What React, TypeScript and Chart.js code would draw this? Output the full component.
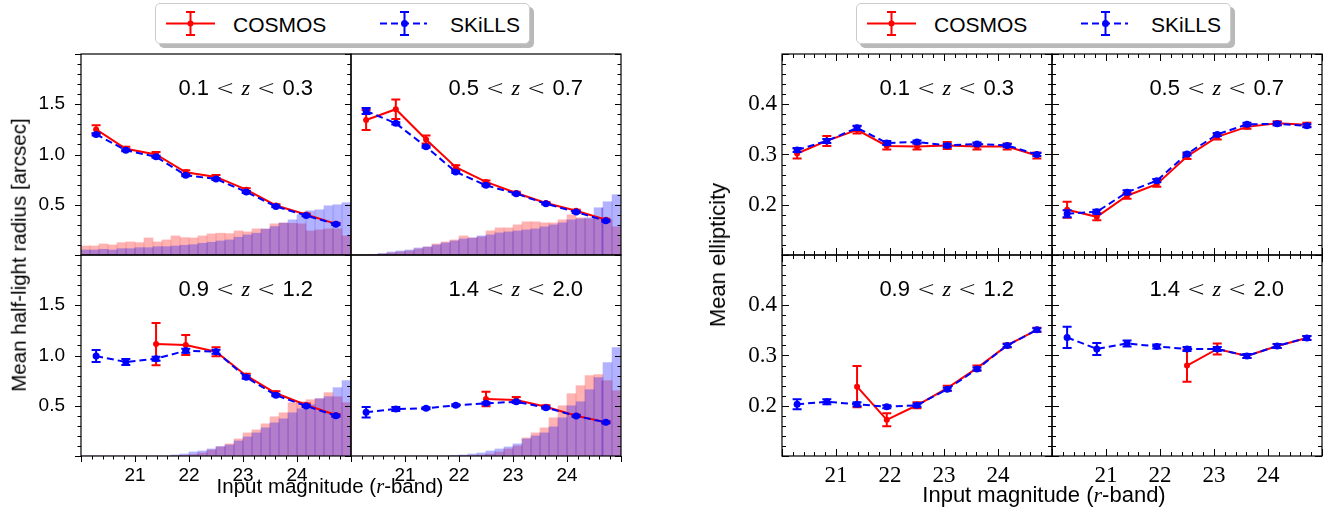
import React, { useEffect, useRef } from 'react';
import { Chart, registerables } from 'chart.js';

Chart.register(...registerables);

// ---------------- DATA ----------------
// magnitude bin centres for the mean-value curves
const magBins = [20.28, 20.83, 21.39, 21.94, 22.5, 23.06, 23.61, 24.17, 24.72];
// histogram bin centres (30 bins, 20-25 mag)
const histCenters = [20.083, 20.25, 20.417, 20.583, 20.75, 20.917, 21.083, 21.25, 21.417, 21.583,
  21.75, 21.917, 22.083, 22.25, 22.417, 22.583, 22.75, 22.917, 23.083, 23.25,
  23.417, 23.583, 23.75, 23.917, 24.083, 24.25, 24.417, 24.583, 24.75, 24.917];

const zLabels = ['0.1', '0.3', '0.5', '0.7', '0.9', '1.2', '1.4', '2.0'];
const xTickLabels = ['21', '22', '23', '24'];

// Mean half-light radius [arcsec]
const radCosmosZ1 = [1.25, 1.057, 1.0, 0.823, 0.777, 0.65, 0.493, 0.403, 0.31];
const radCosmosErrZ1 = [0.04, 0.02, 0.025, 0.02, 0.02, 0.015, 0.012, 0.01, 0.01];
const radSkillsZ1 = [1.2, 1.043, 0.977, 0.793, 0.757, 0.627, 0.483, 0.393, 0.307];
const radSkillsErrZ1 = [0.012, 0.01, 0.01, 0.01, 0.01, 0.01, 0.008, 0.008, 0.008];

const radCosmosZ2 = [1.343, 1.45, 1.15, 0.873, 0.727, 0.617, 0.517, 0.44, 0.35];
const radCosmosErrZ2 = [0.1, 0.097, 0.04, 0.02, 0.015, 0.012, 0.01, 0.01, 0.01];
const radSkillsZ2 = [1.433, 1.31, 1.077, 0.827, 0.693, 0.61, 0.51, 0.427, 0.34];
const radSkillsErrZ2 = [0.03, 0.012, 0.01, 0.01, 0.01, 0.008, 0.008, 0.008, 0.008];

const radCosmosZ3 = [null, null, 1.114, 1.104, 1.038, 0.799, 0.624, 0.507, 0.408];
const radCosmosErrZ3 = [0, 0, 0.21, 0.1, 0.045, 0.02, 0.02, 0.015, 0.01];
const radSkillsZ3 = [0.995, 0.935, 0.968, 1.048, 1.038, 0.783, 0.604, 0.498, 0.401];
const radSkillsErrZ3 = [0.06, 0.03, 0.02, 0.02, 0.02, 0.015, 0.01, 0.01, 0.01];

const radCosmosZ4 = [null, null, null, null, 0.567, 0.557, 0.49, 0.401, 0.335];
const radCosmosErrZ4 = [0, 0, 0, 0, 0.073, 0.03, 0.015, 0.012, 0.01];
const radSkillsZ4 = [0.435, 0.468, 0.475, 0.504, 0.524, 0.54, 0.481, 0.398, 0.335];
const radSkillsErrZ4 = [0.053, 0.02, 0.01, 0.01, 0.01, 0.01, 0.01, 0.008, 0.008];

// Histograms (arbitrary units drawn on the radius axis)
const histCosmosZ1 = [0.09, 0.09, 0.11, 0.1, 0.123, 0.13, 0.123, 0.17, 0.13, 0.15, 0.19, 0.173, 0.17, 0.19, 0.21, 0.217, 0.213, 0.24, 0.23, 0.26, 0.26, 0.31, 0.32, 0.315, 0.31, 0.24, 0.25, 0.26, 0.26, 0.19];
const histSkillsZ1 = [0.05, 0.05, 0.057, 0.05, 0.063, 0.063, 0.073, 0.073, 0.083, 0.083, 0.09, 0.097, 0.103, 0.117, 0.127, 0.14, 0.15, 0.177, 0.2, 0.217, 0.257, 0.283, 0.317, 0.35, 0.4, 0.44, 0.45, 0.49, 0.5, 0.52];
const histCosmosZ2 = [0, 0, 0, 0.01, 0.02, 0.03, 0.04, 0.06, 0.08, 0.11, 0.13, 0.15, 0.19, 0.17, 0.18, 0.24, 0.27, 0.27, 0.3, 0.33, 0.33, 0.32, 0.32, 0.35, 0.4, 0.37, 0.36, 0.37, 0.35, 0.28];
const histSkillsZ2 = [0, 0, 0.005, 0.015, 0.03, 0.04, 0.05, 0.07, 0.08, 0.1, 0.12, 0.14, 0.16, 0.17, 0.19, 0.2, 0.22, 0.23, 0.24, 0.25, 0.26, 0.28, 0.3, 0.32, 0.35, 0.36, 0.37, 0.47, 0.53, 0.6];
const histCosmosZ3 = [0, 0, 0, 0, 0, 0, 0, 0, 0, 0, 0, 0.005, 0.015, 0.03, 0.06, 0.09, 0.12, 0.17, 0.23, 0.26, 0.32, 0.39, 0.43, 0.53, 0.54, 0.56, 0.57, 0.63, 0.59, 0.53];
const histSkillsZ3 = [0, 0, 0, 0, 0, 0, 0, 0, 0, 0, 0.01, 0.02, 0.04, 0.05, 0.07, 0.095, 0.11, 0.15, 0.19, 0.23, 0.28, 0.33, 0.37, 0.43, 0.47, 0.51, 0.57, 0.59, 0.68, 0.75];
const histCosmosZ4 = [0, 0, 0, 0, 0, 0, 0, 0, 0, 0, 0, 0, 0.003, 0.005, 0.01, 0.02, 0.04, 0.07, 0.1, 0.18, 0.23, 0.28, 0.38, 0.5, 0.62, 0.7, 0.8, 0.81, 0.75, 0.65];
const histSkillsZ4 = [0, 0, 0, 0, 0, 0, 0, 0, 0, 0, 0, 0.005, 0.01, 0.02, 0.03, 0.05, 0.07, 0.09, 0.12, 0.17, 0.2, 0.23, 0.29, 0.38, 0.5, 0.54, 0.66, 0.78, 0.93, 1.08];
// thin vertical histogram edge line [magnitude, height]
const edgeLineZ2 = [24.65, 0.47];
const edgeLineZ4 = [24.65, 0.75];

// Mean ellipticity
const ellCosmosZ1 = [0.302, 0.327, 0.349, 0.317, 0.316, 0.318, 0.316, 0.316, 0.298];
const ellCosmosErrZ1 = [0.01, 0.01, 0.007, 0.007, 0.006, 0.007, 0.006, 0.006, 0.006];
const ellSkillsZ1 = [0.309, 0.327, 0.353, 0.323, 0.325, 0.318, 0.321, 0.318, 0.3];
const ellSkillsErrZ1 = [0.004, 0.004, 0.004, 0.004, 0.003, 0.003, 0.003, 0.003, 0.003];

const ellCosmosZ2 = [0.19, 0.176, 0.218, 0.241, 0.296, 0.335, 0.355, 0.362, 0.359];
const ellCosmosErrZ2 = [0.016, 0.007, 0.006, 0.005, 0.005, 0.005, 0.004, 0.004, 0.004];
const ellSkillsZ2 = [0.182, 0.186, 0.225, 0.248, 0.301, 0.34, 0.36, 0.361, 0.357];
const ellSkillsErrZ2 = [0.007, 0.004, 0.004, 0.003, 0.003, 0.003, 0.003, 0.003, 0.003];

const ellCosmosZ3 = [null, null, 0.238, 0.172, 0.201, 0.235, 0.275, 0.32, 0.351];
const ellCosmosErrZ3 = [0, 0, 0.041, 0.013, 0.006, 0.005, 0.005, 0.004, 0.004];
const ellSkillsZ3 = [0.203, 0.208, 0.203, 0.198, 0.201, 0.233, 0.273, 0.32, 0.351];
const ellSkillsErrZ3 = [0.01, 0.005, 0.004, 0.003, 0.003, 0.003, 0.003, 0.003, 0.003];

const ellCosmosZ4 = [null, null, null, null, 0.28, 0.313, 0.299, 0.319, 0.335];
const ellCosmosErrZ4 = [0, 0, 0, 0, 0.032, 0.011, 0.004, 0.004, 0.004];
const ellSkillsZ4 = [0.336, 0.313, 0.324, 0.318, 0.313, 0.313, 0.299, 0.319, 0.335];
const ellSkillsErrZ4 = [0.021, 0.012, 0.006, 0.004, 0.004, 0.004, 0.004, 0.004, 0.004];

// ---------------- STYLE / LAYOUT ----------------
const RED = '#ff0000';
const BLUE = '#0000ff';
const SANS = '"Liberation Sans", Arial, sans-serif';
const SERIF = '"Liberation Serif", "DejaVu Serif", serif';

const GEO: any = {
  L: { left: [81, 351], top: [54, 255], w: 270, h: 201, yMin: 0, yMax: 2, yMaj: 0.5, yMinor: 0.1 },
  R: { left: [782, 1052], top: [54, 255], w: 270, h: 201, yMin: 0.1, yMax: 0.5, yMaj: 0.1, yMinor: 0.02 },
};

type PanelDef = {
  group: 'L' | 'R'; row: number; col: number; zi: number;
  cosmos: (number | null)[]; cosmosErr: number[]; skills: number[]; skillsErr: number[];
  histC?: number[]; histS?: number[]; edge?: number[];
};

const panels: PanelDef[] = [
  { group: 'L', row: 0, col: 0, zi: 0, cosmos: radCosmosZ1, cosmosErr: radCosmosErrZ1, skills: radSkillsZ1, skillsErr: radSkillsErrZ1, histC: histCosmosZ1, histS: histSkillsZ1 },
  { group: 'L', row: 0, col: 1, zi: 1, cosmos: radCosmosZ2, cosmosErr: radCosmosErrZ2, skills: radSkillsZ2, skillsErr: radSkillsErrZ2, histC: histCosmosZ2, histS: histSkillsZ2, edge: edgeLineZ2 },
  { group: 'L', row: 1, col: 0, zi: 2, cosmos: radCosmosZ3, cosmosErr: radCosmosErrZ3, skills: radSkillsZ3, skillsErr: radSkillsErrZ3, histC: histCosmosZ3, histS: histSkillsZ3 },
  { group: 'L', row: 1, col: 1, zi: 3, cosmos: radCosmosZ4, cosmosErr: radCosmosErrZ4, skills: radSkillsZ4, skillsErr: radSkillsErrZ4, histC: histCosmosZ4, histS: histSkillsZ4, edge: edgeLineZ4 },
  { group: 'R', row: 0, col: 0, zi: 0, cosmos: ellCosmosZ1, cosmosErr: ellCosmosErrZ1, skills: ellSkillsZ1, skillsErr: ellSkillsErrZ1 },
  { group: 'R', row: 0, col: 1, zi: 1, cosmos: ellCosmosZ2, cosmosErr: ellCosmosErrZ2, skills: ellSkillsZ2, skillsErr: ellSkillsErrZ2 },
  { group: 'R', row: 1, col: 0, zi: 2, cosmos: ellCosmosZ3, cosmosErr: ellCosmosErrZ3, skills: ellSkillsZ3, skillsErr: ellSkillsErrZ3 },
  { group: 'R', row: 1, col: 1, zi: 3, cosmos: ellCosmosZ4, cosmosErr: ellCosmosErrZ4, skills: ellSkillsZ4, skillsErr: ellSkillsErrZ4 },
];

// ---------------- PLUGINS ----------------
const errorBars = {
  id: 'errorBars',
  beforeDatasetDraw(chart: any, args: any) {
    const ds: any = chart.data.datasets[args.index];
    if (!ds.errors) return;
    const ctx = chart.ctx;
    const ys = chart.scales.y;
    ctx.save();
    ctx.strokeStyle = ds.borderColor;
    ctx.lineWidth = 2;
    ctx.setLineDash([]);
    args.meta.data.forEach((pt: any, i: number) => {
      const d = ds.data[i];
      const e = ds.errors[i];
      if (!d || d.y == null || !e) return;
      const x = pt.x;
      const y1 = ys.getPixelForValue(d.y - e);
      const y2 = ys.getPixelForValue(d.y + e);
      const cap = 4.5;
      ctx.beginPath();
      ctx.moveTo(x, y1); ctx.lineTo(x, y2);
      ctx.moveTo(x - cap, y1); ctx.lineTo(x + cap, y1);
      ctx.moveTo(x - cap, y2); ctx.lineTo(x + cap, y2);
      ctx.stroke();
    });
    ctx.restore();
  },
};

const panelAxes = {
  id: 'panelAxes',
  afterDatasetsDraw(chart: any, _args: any, opts: any) {
    const { ctx, chartArea: a } = chart;
    const xs = chart.scales.x, ys = chart.scales.y;
    const g = GEO[opts.group];
    const isL = opts.group === 'L';
    ctx.save();
    ctx.strokeStyle = '#000';
    ctx.lineWidth = 1;
    ctx.setLineDash([]);
    const line = (x1: number, y1: number, x2: number, y2: number) => {
      ctx.beginPath(); ctx.moveTo(x1, y1); ctx.lineTo(x2, y2); ctx.stroke();
    };
    const maj = isL ? 6 : 7, mn = isL ? 3.5 : 4;
    const nY = Math.round((g.yMax - g.yMin) / g.yMinor);
    for (let k = 0; k <= nY; k++) {
      const v = g.yMin + k * g.yMinor;
      const r = v / g.yMaj;
      const isMaj = Math.abs(r - Math.round(r)) < 1e-6;
      const len = isMaj ? maj : mn;
      const py = Math.round(ys.getPixelForValue(v)) + 0.5;
      if (isL) {
        line(a.left - len, py, a.left, py);
        line(a.right - len, py, a.right, py);
      } else {
        line(a.left, py, a.left + len, py);
        line(a.right - len, py, a.right, py);
      }
    }
    for (let k = 0; k <= 25; k++) {
      const v = 20 + k * 0.2;
      const len = k % 5 === 0 ? maj : mn;
      const px = Math.round(xs.getPixelForValue(v)) + 0.5;
      if (isL) {
        if (opts.row === 1) line(px, a.bottom, px, a.bottom + len);
      } else {
        line(px, a.bottom, px, a.bottom - len);
        line(px, a.top, px, a.top + len);
      }
    }
    ctx.lineWidth = 1.2;
    ctx.strokeRect(a.left, a.top, a.right - a.left, a.bottom - a.top);
    ctx.restore();
  },
};

const zeroPad = (s: any) => {
  s.paddingTop = 0; s.paddingBottom = 0; s.paddingLeft = 0; s.paddingRight = 0;
};

// ---------------- COMPONENTS ----------------
function Panel({ def }: { def: PanelDef }) {
  const ref = useRef<HTMLCanvasElement>(null);
  const g = GEO[def.group];
  const isL = def.group === 'L';
  const padL = def.col === 0 ? 75 : 8;
  const padB = def.row === 1 ? 34 : 8;
  const padT = 8, padR = 8;
  const W = g.w + padL + padR;
  const H = g.h + padT + padB;
  const left = g.left[def.col] - padL;
  const top = g.top[def.row] - padT;

  useEffect(() => {
    const datasets: any[] = [
      {
        type: 'line', label: 'SKiLLS',
        data: magBins.map((x, i) => ({ x, y: def.skills[i] })),
        errors: def.skillsErr,
        borderColor: BLUE, backgroundColor: BLUE, borderWidth: 2, borderDash: [7, 4],
        pointRadius: 3.5, pointBorderWidth: 0, pointBackgroundColor: BLUE, order: 0,
      },
      {
        type: 'line', label: 'COSMOS',
        data: magBins.map((x, i) => ({ x, y: def.cosmos[i] })),
        errors: def.cosmosErr,
        borderColor: RED, backgroundColor: RED, borderWidth: 2,
        pointRadius: 3, pointBorderWidth: 0, pointBackgroundColor: RED, order: 1,
      },
    ];
    if (def.histC && def.histS) {
      datasets.push({
        type: 'bar', label: 'SKiLLS hist',
        data: histCenters.map((x, i) => ({ x, y: def.histS![i] })),
        backgroundColor: 'rgba(0,0,255,0.3)', borderWidth: 0,
        barPercentage: 1, categoryPercentage: 1, grouped: false, order: 3,
      });
      datasets.push({
        type: 'bar', label: 'COSMOS hist',
        data: histCenters.map((x, i) => ({ x, y: def.histC![i] })),
        backgroundColor: 'rgba(255,0,0,0.3)', borderWidth: 0,
        barPercentage: 1, categoryPercentage: 1, grouped: false, order: 4,
      });
    }
    if (def.edge) {
      datasets.push({
        type: 'line', label: 'edge',
        data: [{ x: def.edge[0], y: 0 }, { x: def.edge[0], y: def.edge[1] }],
        borderColor: 'rgba(105,60,210,0.9)', borderWidth: 1, pointRadius: 0, order: 2,
      });
    }
    const tickFont = isL ? { family: SANS, size: 19 } : { family: SERIF, size: 23 };
    const chart = new Chart(ref.current as HTMLCanvasElement, {
      type: 'line',
      data: { datasets },
      plugins: [errorBars, panelAxes],
      options: {
        animation: false,
        responsive: false,
        maintainAspectRatio: false,
        events: [],
        layout: { padding: { top: padT, right: padR, left: 0, bottom: 0 } },
        plugins: {
          legend: { display: false },
          tooltip: { enabled: false },
          panelAxes: { group: def.group, row: def.row },
        } as any,
        scales: {
          x: {
            type: 'linear', min: 20, max: 25, offset: false,
            grid: { display: false, drawTicks: false },
            border: { display: false },
            ticks: {
              display: def.row === 1, stepSize: 1, autoSkip: false, maxRotation: 0,
              padding: isL ? 8 : 6, color: '#000', font: tickFont,
              callback: (v: any) => (xTickLabels.includes(String(v)) ? String(v) : ''),
            },
            afterFit: (s: any) => { s.height = padB; zeroPad(s); },
          },
          y: {
            type: 'linear', min: g.yMin, max: g.yMax,
            grid: { display: false, drawTicks: false },
            border: { display: false },
            ticks: {
              display: def.col === 0, stepSize: g.yMaj, autoSkip: false,
              padding: isL ? 16 : 5, color: '#000', font: tickFont,
              callback: (v: any) => {
                const n = Number(v);
                if (Math.abs(n - g.yMin) < 1e-6 || Math.abs(n - g.yMax) < 1e-6) return '';
                return n.toFixed(1);
              },
            },
            afterFit: (s: any) => { s.width = padL; zeroPad(s); },
          },
        },
      } as any,
    });
    return () => chart.destroy();
  }, []);

  return (
    <canvas ref={ref} width={W} height={H}
      style={{ position: 'absolute', left, top, width: W, height: H }} />
  );
}

const LT = '"DejaVu Sans", sans-serif';

function PanelLabel({ def }: { def: PanelDef }) {
  const g = GEO[def.group];
  const right = g.left[def.col] + g.w - 38;
  const cy = g.top[def.row] + 34;
  const lo = zLabels[def.zi * 2];
  const hi = zLabels[def.zi * 2 + 1];
  return (
    <div style={{
      position: 'absolute', left: right, top: cy, transform: 'translate(-100%, -50%)',
      whiteSpace: 'nowrap', fontFamily: SANS, fontSize: 22, color: '#000', lineHeight: 1,
    }}>
      {lo}<span style={{ fontFamily: LT, fontWeight: 300, margin: '0 7px' }}>&lt;</span>
      <span style={{ fontFamily: SERIF, fontStyle: 'italic' }}>z</span>
      <span style={{ fontFamily: LT, fontWeight: 300, margin: '0 7px' }}>&lt;</span>{hi}
    </div>
  );
}

function Legend({ left }: { left: number }) {
  const w = 375, h = 41, top = 3;
  return (
    <>
      <div style={{ position: 'absolute', left: left + 4, top: top + 4, width: w, height: h,
        background: 'rgba(128,128,128,0.55)', borderRadius: 5 }} />
      <div style={{ position: 'absolute', left, top, width: w, height: h, boxSizing: 'border-box',
        background: '#fff', border: '1px solid #cccccc', borderRadius: 5 }}>
        <svg width={w} height={h} style={{ position: 'absolute', left: -1, top: -1 }}>
          <line x1={11} y1={20.5} x2={60} y2={20.5} stroke={RED} strokeWidth={2} />
          <line x1={35.5} y1={9} x2={35.5} y2={32} stroke={RED} strokeWidth={2} />
          <line x1={31} y1={9} x2={40} y2={9} stroke={RED} strokeWidth={2} />
          <line x1={31} y1={32} x2={40} y2={32} stroke={RED} strokeWidth={2} />
          <circle cx={35.5} cy={20.5} r={3} fill={RED} />
          <line x1={225} y1={20.5} x2={272} y2={20.5} stroke={BLUE} strokeWidth={2} strokeDasharray="7 4" />
          <line x1={249.5} y1={9} x2={249.5} y2={32} stroke={BLUE} strokeWidth={2} />
          <line x1={245} y1={9} x2={254} y2={9} stroke={BLUE} strokeWidth={2} />
          <line x1={245} y1={32} x2={254} y2={32} stroke={BLUE} strokeWidth={2} />
          <circle cx={249.5} cy={20.5} r={3.5} fill={BLUE} />
        </svg>
        <div style={{ position: 'absolute', left: 77, top: 20, transform: 'translateY(-50%)',
          fontFamily: SANS, fontSize: 21, lineHeight: 1, whiteSpace: 'nowrap' }}>COSMOS</div>
        <div style={{ position: 'absolute', left: 294, top: 20, transform: 'translateY(-50%)',
          fontFamily: SANS, fontSize: 21, lineHeight: 1, whiteSpace: 'nowrap' }}>SKiLLS</div>
      </div>
    </>
  );
}

function Title({ x, y, size, rotate, children }: any) {
  return (
    <div style={{
      position: 'absolute', left: x, top: y,
      transform: `translate(-50%, -50%)${rotate ? ' rotate(-90deg)' : ''}`,
      whiteSpace: 'nowrap', fontFamily: SANS, fontSize: size, lineHeight: 1, color: '#000',
    }}>{children}</div>
  );
}

export default function App() {
  return (
    <div style={{ position: 'fixed', left: 0, top: 0, width: 1336, height: 513, background: '#fff', overflow: 'hidden' }}>
      {panels.map((p, i) => <Panel key={i} def={p} />)}
      {panels.map((p, i) => <PanelLabel key={'l' + i} def={p} />)}
      <Legend left={155} />
      <Legend left={856} />
      <Title x={19} y={255} size={20.5} rotate>Mean half-light radius [arcsec]</Title>
      <Title x={330} y={486} size={20.5}>Input magnitude (<span style={{ fontFamily: SERIF, fontStyle: 'italic' }}>r</span>-band)</Title>
      <Title x={718} y={255} size={22} rotate>Mean ellipticity</Title>
      <Title x={1044} y={495} size={22}>Input magnitude (<span style={{ fontFamily: SERIF, fontStyle: 'italic' }}>r</span>-band)</Title>
    </div>
  );
}
